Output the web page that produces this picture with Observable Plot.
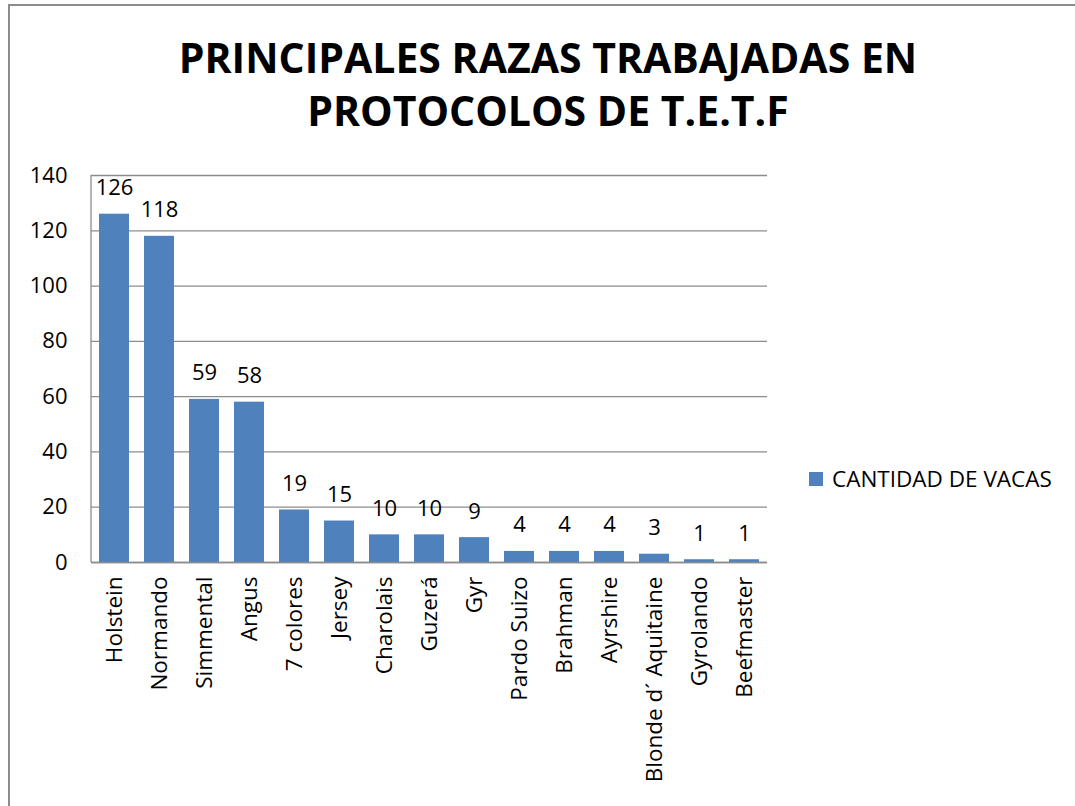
<!DOCTYPE html>
<html><head><meta charset="utf-8">
<script src="https://cdn.jsdelivr.net/npm/d3@7"></script>
<script src="https://cdn.jsdelivr.net/npm/@observablehq/plot@0.6"></script>
<style>
html,body{margin:0;padding:0;background:#fff;}
#wrap{position:relative;width:1075px;height:806px;overflow:hidden;font-family:"Open Sans",sans-serif;}
#border{position:absolute;left:8px;top:4px;width:1100px;height:900px;border-left:2px solid #8c8c8c;border-top:2px solid #8c8c8c;box-sizing:border-box;}
#title{position:absolute;left:0;width:1096px;top:31px;text-align:center;font-weight:700;font-size:41px;line-height:53px;color:#000;}
#legend{position:absolute;left:809px;top:463px;font-size:22.5px;color:#000;display:flex;align-items:center;}
#legend span.sw{display:inline-block;width:14px;height:14px;background:#4F81BD;margin-right:9px;}
#chart{position:absolute;left:0;top:0;}
</style></head>
<body>
<div id="wrap">
<div id="border"></div>
<div id="chart"></div>
<div id="title">PRINCIPALES RAZAS TRABAJADAS EN<br>PROTOCOLOS DE T.E.T.F</div>
<div id="legend"><span class="sw"></span><span id="legtext"></span></div>
</div>
<script>
const breeds = ["Holstein","Normando","Simmental","Angus","7 colores","Jersey","Charolais","Guzerá","Gyr","Pardo Suizo","Brahman","Ayrshire","Blonde d´ Aquitaine","Gyrolando","Beefmaster"];
const cows = [126,118,59,58,19,15,10,10,9,4,4,4,3,1,1];
const yTicks = [0,20,40,60,80,100,120,140];
const seriesName = "CANTIDAD DE VACAS";

const data = breeds.map((b,i)=>({breed:b, value:cows[i]}));
document.getElementById("legtext").textContent = seriesName;

const chart = Plot.plot({
  width:1075, height:806,
  marginLeft:91, marginRight:308, marginTop:175, marginBottom:244,
  style:{fontFamily:"Open Sans, sans-serif", fontSize:"22px", color:"#000", background:"transparent"},
  x:{domain:breeds, paddingInner:0.33, paddingOuter:0.165, label:null},
  y:{domain:[0,140], label:null},
  marks:[
    Plot.gridY(yTicks,{stroke:"#8c8c8c", strokeOpacity:1, strokeWidth:1.3}),
    Plot.barY(data,{x:"breed", y:"value", fill:"#4F81BD"}),
    Plot.ruleY([0],{stroke:"#8c8c8c", strokeWidth:1.5}),
    Plot.axisY(yTicks,{tickSize:0, tickPadding:24, fontSize:22, label:null}),
    Plot.axisX({tickSize:0, tickRotate:-90, tickPadding:14, fontSize:22.5, label:null}),
    Plot.text(data,{x:"breed", y:"value", text:d=>String(d.value), dy:-26, fontSize:22, fill:"#000"})
  ]
});
document.getElementById("chart").appendChild(chart);
// left frame line of plot area
d3.select(chart).append("line").attr("x1",91).attr("x2",91).attr("y1",175).attr("y2",562).attr("stroke","#8c8c8c").attr("stroke-width",1.3);
</script>
</body></html>
